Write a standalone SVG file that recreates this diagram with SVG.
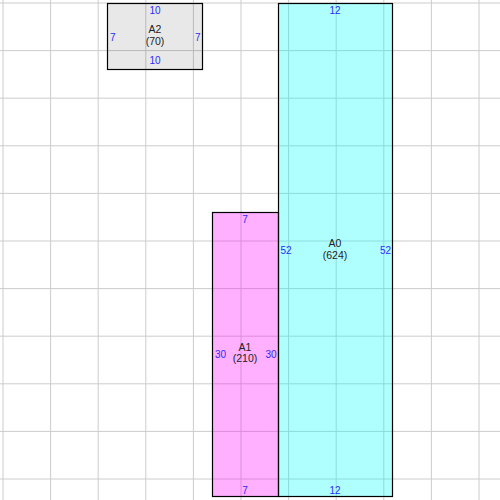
<svg xmlns="http://www.w3.org/2000/svg" width="500" height="500" viewBox="0 0 500 500">
<style>
.grid line{stroke:#cccccc;stroke-width:1}
.box{stroke:#000;stroke-width:1.2}
.num{font-family:"Liberation Sans",Arial,sans-serif;font-size:10px;fill:#2b2bff}
.name{font-family:"Liberation Sans",Arial,sans-serif;font-size:10.5px;fill:#222;text-anchor:middle}
.c{text-anchor:middle}.s{text-anchor:start}.e{text-anchor:end}
</style>
<rect width="500" height="500" fill="#fff"/>
<g class="grid">
<line x1="3" y1="0" x2="3" y2="500"/><line x1="50.6" y1="0" x2="50.6" y2="500"/><line x1="98.2" y1="0" x2="98.2" y2="500"/><line x1="145.8" y1="0" x2="145.8" y2="500"/><line x1="193.4" y1="0" x2="193.4" y2="500"/><line x1="241" y1="0" x2="241" y2="500"/><line x1="288.6" y1="0" x2="288.6" y2="500"/><line x1="336.2" y1="0" x2="336.2" y2="500"/><line x1="383.8" y1="0" x2="383.8" y2="500"/><line x1="431.4" y1="0" x2="431.4" y2="500"/><line x1="479" y1="0" x2="479" y2="500"/>
<line x1="0" y1="3" x2="500" y2="3"/><line x1="0" y1="50.6" x2="500" y2="50.6"/><line x1="0" y1="98.2" x2="500" y2="98.2"/><line x1="0" y1="145.8" x2="500" y2="145.8"/><line x1="0" y1="193.4" x2="500" y2="193.4"/><line x1="0" y1="241" x2="500" y2="241"/><line x1="0" y1="288.6" x2="500" y2="288.6"/><line x1="0" y1="336.2" x2="500" y2="336.2"/><line x1="0" y1="383.8" x2="500" y2="383.8"/><line x1="0" y1="431.4" x2="500" y2="431.4"/><line x1="0" y1="479" x2="500" y2="479"/>
</g>
<g id="connectors"></g>
<g id="A2">
<rect class="box" x="107.5" y="3.5" width="95" height="66" fill="#000" fill-opacity="0.09"/>
<text class="num c" x="155" y="14">10</text>
<text class="num c" x="155" y="64">10</text>
<text class="num s" x="110" y="40.5">7</text>
<text class="num e" x="200.5" y="40.5">7</text>
<text class="name" x="155" y="33">A2</text>
<text class="name" x="155" y="44.5">(70)</text>
</g>
<g id="A1">
<rect class="box" x="212.5" y="212.5" width="66" height="284" fill="#ff00ff" fill-opacity="0.31"/>
<text class="num c" x="245" y="223">7</text>
<text class="num c" x="245" y="494">7</text>
<text class="num s" x="215" y="358">30</text>
<text class="num e" x="276.5" y="358">30</text>
<text class="name" x="245" y="350.5">A1</text>
<text class="name" x="245" y="362">(210)</text>
</g>
<g id="A0">
<rect class="box" x="278.5" y="3.5" width="114" height="493" fill="#00ffff" fill-opacity="0.31"/>
<text class="num c" x="335" y="14">12</text>
<text class="num c" x="335" y="494">12</text>
<text class="num s" x="280.5" y="254">52</text>
<text class="num e" x="391" y="254">52</text>
<text class="name" x="335" y="247">A0</text>
<text class="name" x="335" y="258.5">(624)</text>
</g>
</svg>
